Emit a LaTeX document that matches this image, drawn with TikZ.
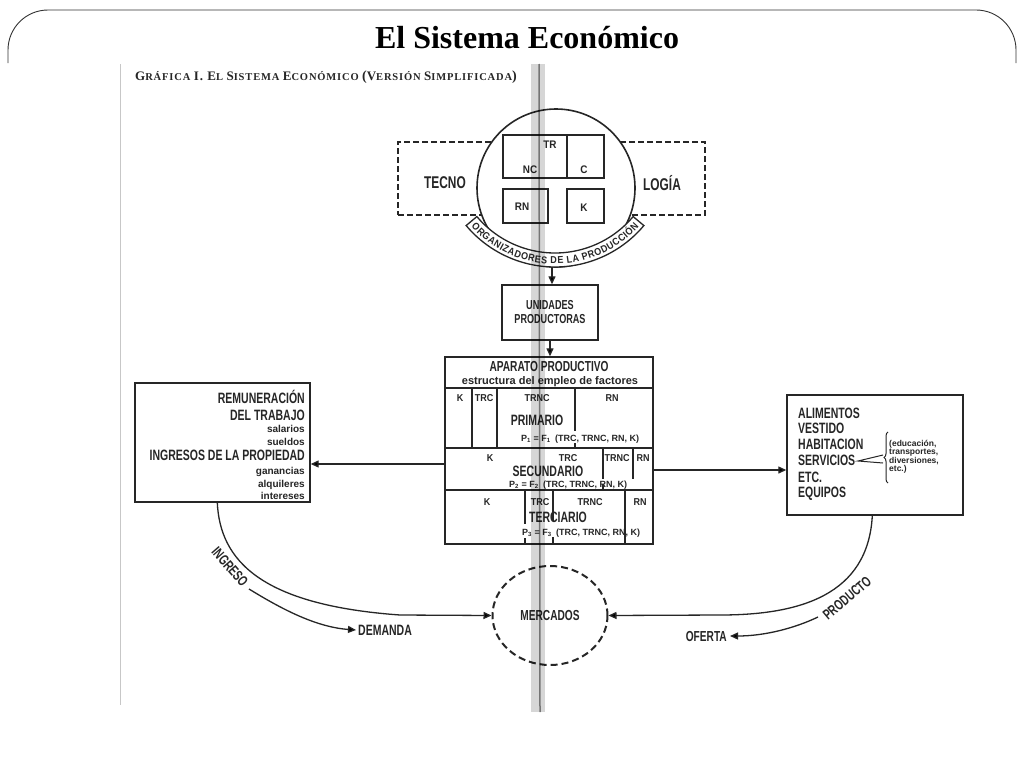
\documentclass[tikz,border=0pt]{standalone}
\usepackage{fontspec}
\setmainfont{Liberation Serif}
\newfontfamily\cf[FakeStretch=0.7]{Liberation Sans}
\newfontfamily\lf[FakeStretch=0.9]{Liberation Sans}
\newfontfamily\nf{Liberation Sans}
\usetikzlibrary{arrows.meta,shapes.geometric,decorations.text,decorations.pathreplacing,calc}
\newcommand\Fs[1]{\fontsize{#1}{#1}\selectfont}
\definecolor{ink}{gray}{0.15}
\begin{document}
\begin{tikzpicture}[x=1pt,y=-1pt,
  box/.style={draw=ink, line width=1.4pt, fill=white, inner sep=0pt},
  ibox/.style={draw=ink, line width=1.3pt, inner sep=0pt},
  arr/.style={draw=ink, line width=1.3pt, -{Triangle[length=8pt,width=7pt]}},
  capt/.style={font=\cf\bfseries\Fs{15}, text=ink, inner sep=0pt},
  lab/.style={font=\lf\bfseries\Fs{10}, text=ink, inner sep=0pt},
  frm/.style={font=\nf\bfseries\Fs{9}, text=ink, inner sep=0pt, anchor=west},
  bigl/.style={font=\cf\bfseries\Fs{15}, text=ink, inner sep=0pt},
  smll/.style={font=\nf\bfseries\Fs{10}, text=ink, inner sep=0pt},
  tl/.style={draw=ink, line width=1.2pt}]

\useasboundingbox (0,0) rectangle (1024,768);
\fill[white] (0,0) rectangle (1024,768);

% slide frame
\draw[black!80, line width=0.9pt, rounded corners=40pt] (8,63) -- (8,10) -- (1016,10) -- (1016,63);
\draw[black!22, line width=0.8pt] (120,64) -- (120,705);

\node[font=\bfseries\Fs{32}] (title) at (527,38) {El Sistema Económico};

\node[anchor=base west, font=\bfseries\addfontfeature{LetterSpace=8}, text=ink, inner sep=0pt] (hd) at (135,80)
 {\Fs{13}G\Fs{10.5}RÁFICA \Fs{13}I. E\Fs{10.5}L \Fs{13}S\Fs{10.5}ISTEMA \Fs{13}E\Fs{10.5}CONÓMICO \Fs{14}(\Fs{13}V\Fs{10.5}ERSIÓN \Fs{13}S\Fs{10.5}IMPLIFICADA\Fs{14})};

% tecnologia
\node[draw=ink, line width=2pt, dash pattern=on 6pt off 3pt, minimum width=307pt, minimum height=73pt, inner sep=0pt] (tec) at (551.5,178.5) {};
\node[font=\cf\bfseries\Fs{17}, text=ink] (tecno) at (445,183) {TECNO};
\node[font=\cf\bfseries\Fs{17}, text=ink] (logia) at (662,183) {LOGÍA};

\node[circle, draw=ink, line width=1.6pt, fill=white, minimum size=158pt, inner sep=0pt] (org) at (556,188) {};
\node[ibox, minimum width=64pt, minimum height=43pt] (bnc) at (535,156.5) {};
\node[ibox, minimum width=37pt, minimum height=43pt] (bc) at (585.5,156.5) {};
\node[ibox, minimum width=45pt, minimum height=34pt] (brn) at (525.5,206) {};
\node[ibox, minimum width=37pt, minimum height=34pt] (bk) at (585.5,206) {};
\node[lab, font=\lf\bfseries\Fs{11}] (ltr) at (550,145) {TR};
\node[lab, font=\lf\bfseries\Fs{11}] (lnc) at (530,170) {NC};
\node[lab, font=\lf\bfseries\Fs{11}] (lc) at (584,170) {C};
\node[lab, font=\lf\bfseries\Fs{11}] (lrn) at (522,207) {RN};
\node[lab, font=\lf\bfseries\Fs{11}] (lk) at (584,208) {K};

% banner
\filldraw[fill=white, draw=ink, line width=1.3pt]
  plot[domain=140:40, samples=50] ({555+116*cos(\x)},{151+116*sin(\x)})
  -- plot[domain=40:140, samples=50] ({555+102*cos(\x)},{151+102*sin(\x)}) -- cycle;
\path[decorate, decoration={text along path, text color=ink,
   text={|\lf\bfseries\Fs{10}|ORGANIZADORES DE LA PRODUCCIÓN},
   text align={fit to path, left indent=4pt, right indent=4pt}}]
  plot[domain=140:40, samples=50] ({555+113*cos(\x)},{151+113*sin(\x)});
\coordinate (orgb) at (552,267);

% unidades
\node[box, minimum width=96pt, minimum height=55pt, align=center, font=\cf\bfseries\Fs{13}, text=ink] (unid) at (550,312.5)
  {UNIDADES\\[1pt]PRODUCTORAS};
\node[box, minimum width=208pt, minimum height=187pt] (ap) at (549,450.5) {};
\draw[arr] (orgb) -- (orgb |- unid.north);
\draw[arr] (unid.south) -- (unid.south |- ap.north);

% aparato table
\draw[tl] (445,388) -- (653,388);
\draw[tl] (445,448) -- (653,448);
\draw[tl] (445,490) -- (653,490);
\node[capt, font=\cf\bfseries\Fs{14.5}] (aph) at (549,367) {APARATO PRODUCTIVO};
\node[font=\nf\bfseries\Fs{11}, text=ink, inner sep=0pt] (aps) at (550,382) {estructura del empleo de factores};
% primario
\draw[tl] (472,388) -- (472,448);
\draw[tl] (497,388) -- (497,448);
\draw[tl] (575,388) -- (575,431);
\draw[tl] (575,443) -- (575,448);
\node[lab] (p1) at (460,398) {K};
\node[lab] (p2) at (484,398) {TRC};
\node[lab] (p3) at (537,398) {TRNC};
\node[lab] (p4) at (612,398) {RN};
\node[capt] (prim) at (537,420) {PRIMARIO};
\node[frm] (pf) at (521,439) {P\textsubscript{1} = F\textsubscript{1}\enspace (TRC, TRNC, RN, K)};
% secundario
\draw[tl] (603,448) -- (603,479);
\draw[tl] (603,484) -- (603,490);
\draw[tl] (633,448) -- (633,479);
\node[lab] (s1) at (490,458) {K};
\node[lab] (s2) at (568,458) {TRC};
\node[lab] (s3) at (617,458) {TRNC};
\node[lab] (s4) at (643,458) {RN};
\node[capt] (sec) at (548,471) {SECUNDARIO};
\node[frm] (sf) at (509,485) {P\textsubscript{2} = F\textsubscript{2}\enspace (TRC, TRNC, RN, K)};
% terciario
\draw[tl] (525,490) -- (525,524);
\draw[tl] (525,538) -- (525,544);
\draw[tl] (553,490) -- (553,521);
\draw[tl] (553,537) -- (553,544);
\draw[tl] (625,490) -- (625,544);
\node[lab] (t1) at (487,502) {K};
\node[lab] (t2) at (540,502) {TRC};
\node[lab] (t3) at (590,502) {TRNC};
\node[lab] (t4) at (640,502) {RN};
\node[capt] (ter) at (558,517) {TERCIARIO};
\node[frm] (tf) at (522,533) {P\textsubscript{3} = F\textsubscript{3}\enspace (TRC, TRNC, RN, K)};

% left box
\node[box, minimum width=175pt, minimum height=119pt] (lbox) at (222.5,442.5) {};
\node[bigl, anchor=base east] (l1) at (305,403) {REMUNERACIÓN};
\node[bigl, anchor=base east] (l2) at (305,420) {DEL TRABAJO};
\node[smll, anchor=base east] (l3) at (305,432) {salarios};
\node[smll, anchor=base east] (l4) at (305,445) {sueldos};
\node[bigl, anchor=base east] (l5) at (305,460) {INGRESOS DE LA PROPIEDAD};
\node[smll, anchor=base east] (l6) at (305,474) {ganancias};
\node[smll, anchor=base east] (l7) at (305,487) {alquileres};
\node[smll, anchor=base east] (l8) at (305,499) {intereses};

% right box
\node[box, minimum width=176pt, minimum height=120pt] (rbox) at (875,455) {};
\node[bigl, anchor=base west] (r1) at (798,418) {ALIMENTOS};
\node[bigl, anchor=base west] (r2) at (798,433) {VESTIDO};
\node[bigl, anchor=base west] (r3) at (798,449) {HABITACION};
\node[bigl, anchor=base west] (r4) at (798,465) {SERVICIOS};
\node[bigl, anchor=base west] (r5) at (798,482) {ETC.};
\node[bigl, anchor=base west] (r6) at (798,497) {EQUIPOS};
\draw[ink, line width=1pt, decorate, decoration={brace, amplitude=4pt}] (888,483) -- (888,432);
\draw[ink, line width=1pt] (883,455) -- (858,461) -- (883,463);
\node[anchor=north west, align=left, font=\nf\bfseries\Fs{8.5}, text=ink, inner sep=0pt] (rs) at (889,440)
  {\baselineskip=10pt (educación,\\ transportes,\\ diversiones,\\ etc.)};

% arrows to boxes
\draw[arr] (ap.west |- 0,464) -- (lbox.east |- 0,464);
\draw[arr] (ap.east |- 0,470) -- (rbox.west |- 0,470);

% mercados
\node[ellipse, draw=ink, line width=2pt, dash pattern=on 7pt off 4pt, minimum width=115pt, minimum height=99pt, inner sep=0pt, font=\cf\bfseries\Fs{14.5}, text=ink] (merc) at (550,615.5) {MERCADOS};

\node[font=\cf\bfseries\Fs{15}, text=ink, anchor=west, inner sep=0pt] (dem) at (358,630) {DEMANDA};
\node[font=\cf\bfseries\Fs{14.5}, text=ink, anchor=east, inner sep=0pt] (ofe) at (727,636) {OFERTA};
\node[font=\cf\bfseries\Fs{14.5}, text=ink, rotate=-49, inner sep=0pt] (ingl) at (230,567) {INGRESO};
\node[font=\cf\bfseries\Fs{14.5}, text=ink, rotate=40, inner sep=0pt] (prl) at (847,598) {PRODUCTO};

\draw[arr] ([xshift=83pt]lbox.south west) .. controls (220,560) and (260,605) .. (400,615) -- (merc.west);
\coordinate (ingc) at (249,589);
\draw[arr] (ingc) .. controls (280,608) and (315,627) .. ([xshift=-2pt]dem.west);
\draw[arr] ([xshift=86pt]rbox.south west) .. controls (868,595) and (800,615) .. (720,615) -- (merc.east);
\coordinate (prc) at (818,617);
\draw[arr] (prc) .. controls (795,628) and (765,636) .. ([xshift=3pt]ofe.east);

% crease of the scan
\fill[black, opacity=0.16] (531,64) rectangle (545,712);
\draw[black, opacity=0.45, line width=1.5pt] (539,64) -- (540,712);
\end{tikzpicture}
\end{document}
